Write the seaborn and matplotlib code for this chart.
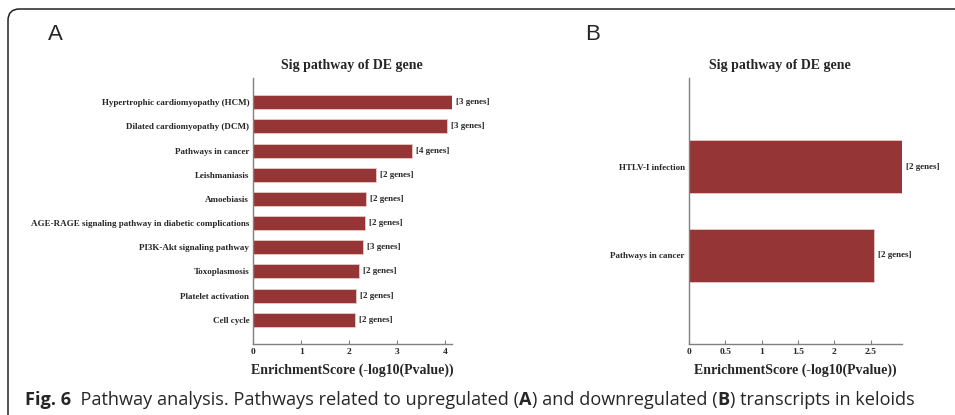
import matplotlib
matplotlib.use("Agg")
import matplotlib.pyplot as plt
from matplotlib.patches import FancyBboxPatch
import seaborn as sns
import pandas as pd

## data
pathways_a = ["Hypertrophic cardiomyopathy (HCM)", "Dilated cardiomyopathy (DCM)",
              "Pathways in cancer", "Leishmaniasis", "Amoebiasis",
              "AGE-RAGE signaling pathway in diabetic complications",
              "PI3K-Akt signaling pathway", "Toxoplasmosis",
              "Platelet activation", "Cell cycle"]
scores_a = [4.13, 4.03, 3.31, 2.56, 2.34, 2.32, 2.29, 2.20, 2.14, 2.125]
genes_a = [3, 3, 4, 2, 2, 2, 3, 2, 2, 2]

pathways_b = ["HTLV-I infection", "Pathways in cancer"]
scores_b = [2.925, 2.54]
genes_b = [2, 2]

ticks_a = [0, 1, 2, 3, 4]
ticks_b = [0, 0.5, 1, 1.5, 2, 2.5]

bar_color = "#953535"
serif = "Liberation Serif"

sns.set_style("white")
plt.rcParams['font.family'] = ["Liberation Serif", "DejaVu Sans"]

fig = plt.figure(figsize=(9.55, 4.15), dpi=100)
W, H = 955.0, 415.0

def fx(px):
    return px / W

def fy(py):
    return 1 - py / H

## outer frame
frame = FancyBboxPatch((fx(8), fy(440)), fx(1000), (440 - 9) / H,
                       boxstyle="round,pad=0,rounding_size=0.012",
                       transform=fig.transFigure, fill=False,
                       edgecolor="#222222", linewidth=1.1, mutation_aspect=W / H)
fig.patches.append(frame)


def draw_panel(rect, names, scores, genes, ticks, bar_h):
    ax = fig.add_axes(rect)
    df = pd.DataFrame({"pathway": names, "score": scores})
    sns.barplot(data=df, y="pathway", x="score", orient="h", color=bar_color,
                saturation=1, width=bar_h, ax=ax)
    for p in ax.patches:
        p.set_edgecolor("#e8c8c8")
        p.set_linewidth(0.6)
    ax.set_xlim(0, max(scores))
    ax.set_ylim(len(names), -1)
    ax.set_xticks(ticks)
    ax.set_xticklabels([f"{t:g}" for t in ticks], fontsize=6.8,
                       fontweight="bold", family=serif)
    ax.set_yticks(range(len(names)))
    ax.set_yticklabels(names, fontsize=6.5, fontweight="bold", family=serif)
    ax.tick_params(axis="y", length=0, pad=3)
    ax.tick_params(axis="x", direction="in", length=3, color="#808080",
                   width=0.8, pad=3, bottom=True)
    for side in ["top", "right"]:
        ax.spines[side].set_visible(False)
    for side in ["left", "bottom"]:
        ax.spines[side].set_color("#808080")
        ax.spines[side].set_linewidth(1.0)
    ax.set_xlabel("")
    ax.set_ylabel("")
    span = max(scores)
    for i, (s, g) in enumerate(zip(scores, genes)):
        ax.text(s + span * 0.02, i, f"[{g} genes]", va="center", ha="left",
                fontsize=6.5, fontweight="bold", family=serif, clip_on=False)
    return ax


ax_a = draw_panel([fx(253.3), fy(344), fx(451.7 - 253.3), (344 - 78) / H],
                  pathways_a, scores_a, genes_a, ticks_a, 0.58)
ax_b = draw_panel([fx(689), fy(344), fx(901.7 - 689), (344 - 78) / H],
                  pathways_b, scores_b, genes_b, ticks_b, 0.6)

## titles and axis labels
for cx in [352, 780]:
    fig.text(fx(cx), fy(65), "Sig pathway of DE gene", ha="center", va="center",
             fontsize=10, fontweight="bold", family=serif)
for cx in [352.5, 795]:
    fig.text(fx(cx), fy(370), "EnrichmentScore (-log10(Pvalue))", ha="center",
             va="center", fontsize=10, fontweight="bold", family=serif)

## panel letters
fig.text(fx(55), fy(35), "A", ha="center", va="center", fontsize=16,
         family="Liberation Sans")
fig.text(fx(593), fy(35), "B", ha="center", va="center", fontsize=16,
         family="Liberation Sans")

## caption with bold parts
caption = [("Fig. 6", "bold"), ("  Pathway analysis. Pathways related to upregulated (", "normal"),
           ("A", "bold"), (") and downregulated (", "normal"), ("B", "bold"),
           (") transcripts in keloids", "normal")]
fig.canvas.draw()
renderer = fig.canvas.get_renderer()
x_px = 25
for txt, wt in caption:
    t = fig.text(fx(x_px), fy(400), txt, ha="left", va="center", fontsize=13.1,
                 fontweight=wt, family="Open Sans")
    bb = t.get_window_extent(renderer=renderer)
    x_px += bb.width

fig.savefig("out.png", dpi=100)
